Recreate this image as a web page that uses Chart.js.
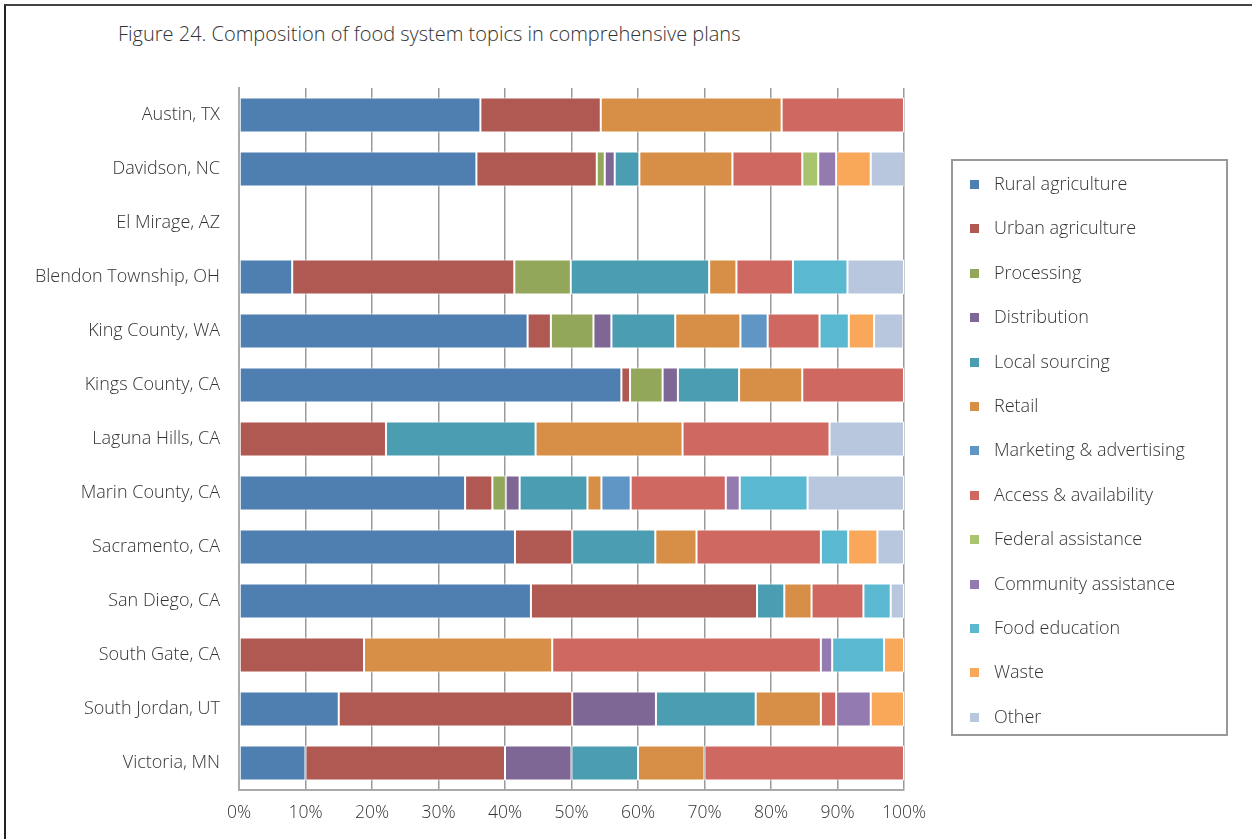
<!DOCTYPE html>
<html>
<head>
<meta charset="utf-8">
<title>Figure 24</title>
<script src="https://cdn.jsdelivr.net/npm/chart.js@4.4.1/dist/chart.umd.min.js"></script>
<style>
  html, body { margin:0; padding:0; background:#fff; }
  #wrap { position:relative; width:1252px; height:839px; overflow:hidden; font-family:"Open Sans", sans-serif; font-weight:300; }
  #frame { position:absolute; left:4px; top:4px; right:-10px; bottom:-10px; border-top:2px solid #444; border-left:2px solid #222; }
  #title { position:absolute; left:118px; top:20px; font-size:20px; color:#333; white-space:nowrap; }
  #chart { position:absolute; left:0; top:0; }
  #legend { position:absolute; left:951px; top:159px; width:273px; height:573px; border:2px solid #999; }
  #legend .item { position:absolute; left:17px; height:20px; font-size:18px; color:#333; line-height:20px; white-space:nowrap; }
  #legend .sw { display:inline-block; width:9px; height:9px; margin-right:15px; vertical-align:1px; }
</style>
</head>
<body>
<div id="wrap">
  <div id="frame"></div>
  <div id="title">Figure 24. Composition of food system topics in comprehensive plans</div>
  <canvas id="chart" width="1252" height="839"></canvas>
  <div id="legend"></div>
</div>
<script>
/* ======== DATA (percent of topics per plan) ======== */
const cities = ['Austin, TX','Davidson, NC','El Mirage, AZ','Blendon Township, OH','King County, WA',
  'Kings County, CA','Laguna Hills, CA','Marin County, CA','Sacramento, CA','San Diego, CA',
  'South Gate, CA','South Jordan, UT','Victoria, MN'];

const topics = ['Rural agriculture','Urban agriculture','Processing','Distribution','Local sourcing',
  'Retail','Marketing & advertising','Access & availability','Federal assistance',
  'Community assistance','Food education','Waste','Other'];

const ruralAg      = [36.3, 35.7, null,  8.0, 43.4, 57.5, null, 34.0, 41.5, 43.9, null, 15.0, 10.0];
const urbanAg      = [18.1, 18.1, null, 33.4,  3.5,  1.3, 22.1,  4.1,  8.6, 34.0, 18.8, 35.1, 30.0];
const processing   = [null,  1.2, null,  8.5,  6.4,  4.9, null,  2.0, null, null, null, null, null];
const distribution = [null,  1.5, null, null,  2.7,  2.3, null,  2.1, null, null, null, 12.6, 10.0];
const localSourcing= [null,  3.7, null, 20.8,  9.6,  9.2, 22.5, 10.2, 12.5,  4.1, null, 15.0, 10.0];
const retail       = [27.2, 14.0, null,  4.1,  9.8,  9.5, 22.1,  2.1,  6.2,  4.1, 28.3,  9.8, 10.0];
const marketing    = [null, null, null, null,  4.1, null, null,  4.4, null, null, null, null, null];
const access       = [18.4, 10.5, null,  8.5,  7.8, 15.3, 22.1, 14.3, 18.7,  7.8, 40.4,  2.3, 30.0];
const federal      = [null,  2.4, null, null, null, null, null, null, null, null, null, null, null];
const community    = [null,  2.7, null, null, null, null, null,  2.1, null, null,  1.7,  5.2, null];
const foodEd       = [null, null, null,  8.2,  4.4, null, null, 10.2,  4.1,  4.1,  7.8, null, null];
const waste        = [null,  5.2, null, null,  3.8, null, null, null,  4.4, null,  3.0,  5.0, null];
const other        = [null,  5.1, null,  8.5,  4.4, null, 11.2, 14.5,  4.0,  2.0, null, null, null];

const xTicks = [0,10,20,30,40,50,60,70,80,90,100];

const colors = ['#4F7FB0','#B05852','#93A75A','#7F6795','#4B9DB2','#D78F48','#6096C6',
  '#CF6861','#A9C46E','#937BB0','#5AB8D1','#F9A85A','#B8C7DE'];

const series = [ruralAg, urbanAg, processing, distribution, localSourcing, retail, marketing,
  access, federal, community, foodEd, waste, other];

/* ======== CHART ======== */
Chart.defaults.font.family = '"Open Sans", sans-serif';
Chart.defaults.font.size = 17;
Chart.defaults.font.weight = 300;
Chart.defaults.color = '#333';

new Chart(document.getElementById('chart'), {
  type:'bar',
  data:{
    labels:cities,
    datasets: series.map((d,i)=>({
      label:topics[i], data:d, backgroundColor:colors[i],
      borderColor:'#fff', borderWidth:1, borderSkipped:false,
      barPercentage:0.65, categoryPercentage:1
    }))
  },
  options:{
    indexAxis:'y', responsive:false, animation:false,
    layout:{ padding:{ left:0, right:348, top:88, bottom:0 } },
    plugins:{ legend:{ display:false }, tooltip:{ enabled:false }, title:{ display:false } },
    scales:{
      x:{
        stacked:true, min:0, max:100,
        afterBuildTicks: s => { s.ticks = xTicks.map(v=>({value:v})); },
        afterFit: s => { s.height = 49; },
        ticks:{ callback:v => v + '%', padding:13, font:{ size:17.5 } },
        grid:{ color:'#9a9a9a', lineWidth:1.5, drawTicks:false },
        border:{ color:'#aaa', width:2 }
      },
      y:{
        stacked:true,
        afterFit: s => { s.width = 239; },
        ticks:{ padding:19, font:{ size:18 } },
        grid:{ display:false, drawTicks:false },
        border:{ color:'#aaa', width:2 }
      }
    }
  }
});

/* ======== LEGEND ======== */
const legend = document.getElementById('legend');
legend.innerHTML = topics.map((t,i)=>
  `<div class="item" style="top:${12 + i*44.4}px"><span class="sw" style="background:${colors[i]}"></span>${t.replace('&','&amp;')}</div>`
).join('');
</script>
</body>
</html>
